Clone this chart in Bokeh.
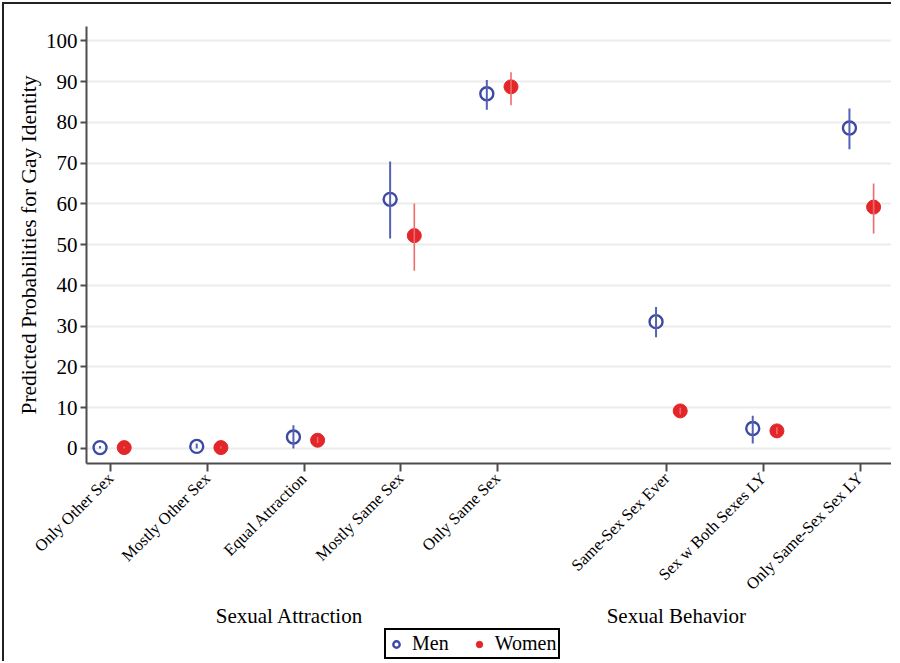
import math
from bokeh.plotting import figure
from bokeh.layouts import column
from bokeh.models import FixedTicker, Legend, LegendItem, LinearAxis, Range1d
from bokeh.embed import file_html
from bokeh.resources import INLINE

categories = ["Only Other Sex", "Mostly Other Sex", "Equal Attraction", "Mostly Same Sex",
              "Only Same Sex", "Same-Sex Sex Ever", "Sex w Both Sexes LY", "Only Same-Sex Sex LY"]
men = [0.2, 0.5, 2.8, 61.1, 87.0, 31.1, 4.9, 78.6]
men_lo = [0.0, 0.0, 0.0, 51.5, 83.1, 27.3, 1.2, 73.4]
men_hi = [0.6, 1.2, 5.7, 70.4, 90.4, 34.7, 8.0, 83.4]
women = [0.2, 0.2, 2.0, 52.2, 88.7, 9.2, 4.3, 59.2]
women_lo = [0.0, 0.0, 1.3, 43.6, 84.2, 8.4, 3.5, 52.7]
women_hi = [0.5, 0.5, 2.8, 60.1, 92.3, 10.0, 5.2, 65.0]
groups = ["Sexual Attraction", "Sexual Behavior"]
series = ["Men", "Women"]
y_ticks = list(range(0, 101, 10))

FONT = "Liberation Serif"
MEN_C = "#3d4aa3"
MEN_BAR = "#5661b3"
WOMEN_C = "#e3262a"
WOMEN_BAR = "#ef6b6b"

# category slots (40 units per category, extra gap before the behaviour group)
pos = [i * 40 + (30 if i >= 5 else 0) for i in range(len(categories))]
xm = [x - 4.4 for x in pos]
xw = [x + 5.6 for x in pos]
group_pos = [74, 234]

p = figure(frame_width=803, frame_height=435, output_backend="svg", toolbar_location=None,
           x_range=Range1d(-10, 323), y_range=Range1d(-3.7, 103.5),
           min_border_left=82, min_border_right=2, min_border_top=22, min_border_bottom=0)
p.outline_line_color = None
p.background_fill_color = "white"
p.styles = {"border-left": "2px solid #222", "border-top": "2px solid #222",
            "margin-left": "2px", "margin-top": "2px"}

MEN_STYLE = dict(marker="circle", size=13, fill_color="white", fill_alpha=0.0,
                 line_color=MEN_C, line_width=2.4)
WOMEN_STYLE = dict(marker="circle", size=14, fill_color=WOMEN_C,
                   line_color=WOMEN_C, line_width=1)
p.scatter(xm, men, **MEN_STYLE)
p.scatter(xw, women, **WOMEN_STYLE)
p.segment(xm, men_lo, xm, men_hi, line_color=MEN_BAR, line_width=2)
p.segment(xw, women_lo, xw, women_hi, line_color=WOMEN_BAR, line_width=1.6)

# x axis
p.xaxis.ticker = FixedTicker(ticks=pos)
p.xaxis.major_label_overrides = {x: c for x, c in zip(pos, categories)}
p.xaxis.major_label_orientation = math.pi / 4
p.xaxis.major_label_text_font = FONT
p.xaxis.major_label_text_font_size = "16.5px"
p.xaxis.major_label_text_color = "black"
p.xaxis.major_tick_out = 8
p.xaxis.major_tick_in = 0
p.xaxis.minor_tick_line_color = None
p.xaxis.axis_line_width = 2
p.xaxis.axis_line_color = "#4d4d4d"
p.xaxis.major_tick_line_width = 2
p.xaxis.major_tick_line_color = "#4d4d4d"
p.xaxis.major_label_standoff = 4

# group labels as a second (tick-less) axis below
gaxis = LinearAxis(ticker=FixedTicker(ticks=group_pos),
                   major_label_overrides={x: g for x, g in zip(group_pos, groups)})
gaxis.axis_line_color = None
gaxis.major_tick_line_color = None
gaxis.minor_tick_line_color = None
gaxis.major_tick_out = 0
gaxis.major_tick_in = 0
gaxis.major_label_standoff = 0
gaxis.major_label_text_font = FONT
gaxis.major_label_text_font_size = "21px"
gaxis.major_label_text_color = "black"
p.add_layout(gaxis, "below")

# y axis
p.yaxis.ticker = FixedTicker(ticks=y_ticks)
p.yaxis.major_label_text_font = FONT
p.yaxis.major_label_text_font_size = "21px"
p.yaxis.major_label_text_color = "black"
p.yaxis.major_tick_out = 6
p.yaxis.major_tick_in = 0
p.yaxis.minor_tick_line_color = None
p.yaxis.axis_line_width = 2
p.yaxis.axis_line_color = "#4d4d4d"
p.yaxis.major_tick_line_width = 2
p.yaxis.major_tick_line_color = "#4d4d4d"
p.yaxis.major_label_standoff = 3
p.yaxis.axis_label = "Predicted Probabilities for Gay Identity"
p.yaxis.axis_label_text_font = FONT
p.yaxis.axis_label_text_font_size = "21.5px"
p.yaxis.axis_label_text_font_style = "normal"
p.yaxis.axis_label_text_color = "black"
p.yaxis.axis_label_standoff = 2

p.xgrid.grid_line_color = None
p.ygrid.ticker = FixedTicker(ticks=y_ticks)
p.ygrid.grid_line_color = "#ececec"
p.ygrid.grid_line_width = 2

# legend strip below the chart (its sample markers sit outside the visible range)
p2 = figure(width=887, height=33, output_backend="svg", toolbar_location=None,
            x_range=Range1d(0, 1), y_range=Range1d(0, 1),
            x_axis_type=None, y_axis_type=None, min_border=0)
p2.outline_line_color = None
p2.xgrid.grid_line_color = None
p2.ygrid.grid_line_color = None
p2.styles = {"border-left": "2px solid #222", "margin-left": "2px"}
lm = p2.scatter([-5], [-5], **MEN_STYLE)
lw = p2.scatter([-5], [-5], **WOMEN_STYLE)
legend = Legend(items=[LegendItem(label=series[0], renderers=[lm]),
                       LegendItem(label=series[1], renderers=[lw])],
                orientation="horizontal", location=(298, 2),
                label_text_font=FONT, label_text_font_size="20px", label_text_color="black",
                label_height=18, border_line_color="black", border_line_width=2,
                border_line_alpha=1.0,
                glyph_width=16, glyph_height=16, label_standoff=8, spacing=22,
                padding=2, margin=0, background_fill_color="white")
p2.add_layout(legend, "center")

layout = column(p, p2, spacing=0)
open("out.html", "w").write(file_html(layout, INLINE))
